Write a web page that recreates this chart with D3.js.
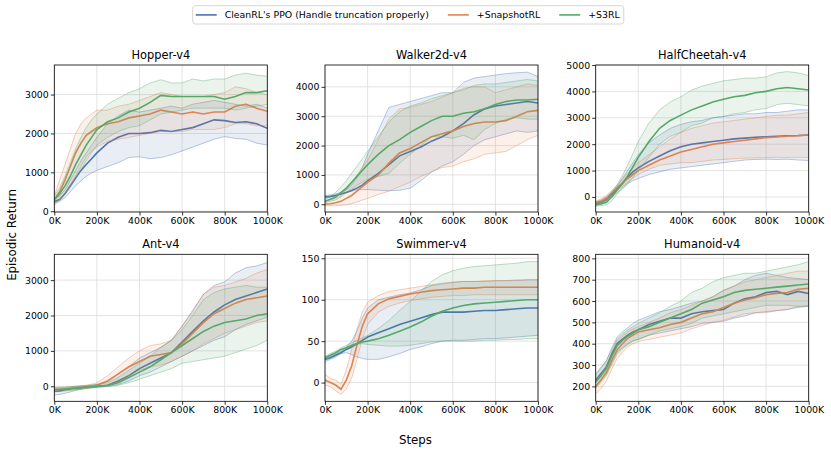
<!DOCTYPE html>
<html>
<head>
<meta charset="utf-8">
<script src="https://cdn.jsdelivr.net/npm/d3@7"></script>
<style>
  body { margin: 0; background: #fff; }
  svg text { font-family: "DejaVu Sans", sans-serif; fill: #000; }
</style>
</head>
<body>
<svg id="fig" width="831" height="454"></svg>
<script>
// steps in thousands
const steps = [0, 25, 50, 75, 100, 125, 150, 175, 200, 250, 300, 350, 400, 450, 500, 550, 600, 650, 700, 750, 800, 850, 900, 950, 1000];

const methods = ["CleanRL's PPO (Handle truncation properly)", "+SnapshotRL", "+S3RL"];
const colors = ["#4c72b0", "#dd8452", "#55a868"];

// Hopper-v4
const hopperPpoMean = [250, 300, 450, 650, 850, 1050, 1200, 1350, 1500, 1750, 1900, 2000, 2000, 2020, 2080, 2050, 2100, 2150, 2250, 2350, 2330, 2280, 2300, 2250, 2130];
const hopperPpoHi = [300, 400, 550, 800, 1050, 1300, 1500, 1700, 1900, 2250, 2450, 2600, 2550, 2600, 2650, 2700, 2650, 2750, 2800, 2850, 2800, 2750, 2700, 2750, 2650];
const hopperPpoLo = [200, 250, 350, 500, 650, 780, 900, 980, 1050, 1150, 1250, 1380, 1400, 1350, 1380, 1450, 1550, 1650, 1750, 1850, 1920, 1870, 1850, 1750, 1700];
const hopperSnapMean = [300, 500, 800, 1150, 1500, 1750, 1950, 2050, 2150, 2250, 2300, 2400, 2450, 2500, 2600, 2550, 2500, 2550, 2500, 2550, 2550, 2700, 2750, 2650, 2570];
const hopperSnapHi = [400, 800, 1200, 1600, 2000, 2250, 2400, 2500, 2600, 2600, 2700, 2750, 2850, 2950, 3050, 3000, 2950, 2950, 2950, 3000, 3050, 3200, 3150, 3050, 3000];
const hopperSnapLo = [150, 300, 450, 650, 900, 1150, 1400, 1550, 1650, 1800, 1850, 1900, 1950, 2000, 2050, 2050, 2050, 2100, 2100, 2100, 2150, 2250, 2250, 2200, 2200];
const hopperS3Mean = [300, 450, 650, 900, 1200, 1450, 1700, 1900, 2100, 2300, 2400, 2550, 2650, 2800, 2980, 2950, 2950, 2950, 2950, 2950, 2880, 2950, 3050, 3050, 3100];
const hopperS3Hi = [400, 600, 900, 1250, 1600, 1900, 2150, 2350, 2500, 2750, 2900, 3050, 3150, 3300, 3380, 3300, 3300, 3400, 3350, 3400, 3400, 3500, 3550, 3500, 3470];
const hopperS3Lo = [200, 300, 450, 650, 850, 1050, 1300, 1500, 1700, 1900, 2050, 2150, 2200, 2350, 2500, 2550, 2600, 2650, 2650, 2650, 2650, 2600, 2650, 2700, 2750];

// Walker2d-v4
const walkerPpoMean = [250, 270, 300, 350, 400, 470, 550, 650, 800, 1050, 1350, 1650, 1800, 1950, 2150, 2300, 2500, 2750, 3050, 3250, 3350, 3400, 3450, 3500, 3450];
const walkerPpoHi = [300, 320, 350, 400, 500, 650, 900, 1250, 1700, 2500, 3300, 3400, 3500, 3600, 3700, 3800, 3800, 4150, 4300, 4350, 4400, 4450, 4480, 4500, 4350];
const walkerPpoLo = [200, 250, 300, 350, 400, 450, 500, 500, 500, 480, 460, 480, 550, 800, 1100, 1300, 1450, 1700, 2000, 2200, 2300, 2400, 2500, 2450, 2500];
const walkerSnapMean = [0, 20, 50, 100, 200, 300, 450, 600, 750, 1000, 1400, 1750, 1900, 2100, 2300, 2400, 2500, 2650, 2750, 2800, 2800, 2850, 3000, 3150, 3200];
const walkerSnapHi = [100, 150, 200, 300, 500, 700, 1000, 1250, 1500, 2200, 2900, 3250, 3300, 3400, 3500, 3650, 3800, 3950, 4000, 4000, 3800, 3900, 4000, 4100, 4050];
const walkerSnapLo = [-50, -50, -50, -40, -20, 20, 80, 140, 200, 330, 450, 600, 750, 950, 1100, 1250, 1300, 1450, 1550, 1700, 1750, 1800, 2000, 2200, 2350];
const walkerS3Mean = [100, 170, 250, 400, 550, 750, 950, 1150, 1350, 1700, 2000, 2200, 2450, 2650, 2850, 3000, 3000, 3100, 3150, 3250, 3400, 3500, 3550, 3550, 3580];
const walkerS3Hi = [150, 250, 400, 600, 800, 1050, 1300, 1550, 1800, 2300, 2800, 3150, 3350, 3450, 3600, 3700, 3800, 3900, 4050, 4100, 4100, 4150, 4200, 4250, 4200];
const walkerS3Lo = [50, 100, 150, 250, 400, 520, 650, 750, 850, 950, 1050, 1400, 1700, 2000, 2300, 2300, 2250, 2350, 2200, 2550, 2750, 2900, 2950, 2900, 2900];

// HalfCheetah-v4
const cheetahPpoMean = [-250, -200, -100, 100, 300, 520, 750, 950, 1100, 1350, 1550, 1750, 1900, 2000, 2050, 2100, 2150, 2200, 2230, 2260, 2280, 2300, 2320, 2330, 2350];
const cheetahPpoHi = [-200, -120, 0, 200, 400, 700, 1000, 1300, 1600, 2050, 2350, 2600, 2750, 2850, 2900, 3000, 3050, 3100, 3150, 3150, 3200, 3200, 3250, 3300, 3300];
const cheetahPpoLo = [-300, -250, -150, 0, 150, 330, 500, 620, 700, 850, 950, 1050, 1100, 1150, 1200, 1250, 1300, 1350, 1400, 1420, 1430, 1420, 1430, 1400, 1380];
const cheetahSnapMean = [-200, -150, -50, 150, 350, 520, 700, 850, 1000, 1200, 1400, 1550, 1700, 1800, 1900, 2000, 2050, 2100, 2150, 2200, 2250, 2270, 2300, 2320, 2350];
const cheetahSnapHi = [-150, -80, 50, 250, 450, 680, 900, 1100, 1300, 1600, 1900, 2200, 2450, 2600, 2700, 2800, 2850, 2900, 2950, 3000, 3050, 3100, 3100, 3150, 3200];
const cheetahSnapLo = [-250, -200, -100, 70, 250, 400, 550, 700, 850, 1050, 1200, 1250, 1300, 1300, 1350, 1400, 1420, 1450, 1470, 1480, 1490, 1500, 1500, 1500, 1500];
const cheetahS3Mean = [-300, -270, -200, 0, 250, 500, 800, 1150, 1500, 2100, 2600, 2900, 3100, 3300, 3450, 3600, 3700, 3800, 3850, 3950, 4000, 4100, 4150, 4100, 4050];
const cheetahS3Hi = [-250, -200, -100, 150, 450, 800, 1200, 1650, 2100, 2800, 3300, 3600, 3800, 4050, 4200, 4300, 4400, 4450, 4500, 4500, 4550, 4700, 4750, 4700, 4600];
const cheetahS3Lo = [-350, -330, -300, -150, 100, 300, 500, 750, 1000, 1500, 2000, 2300, 2450, 2700, 2800, 3000, 3050, 3150, 3200, 3300, 3350, 3500, 3550, 3500, 3450];

// Ant-v4
const antPpoMean = [-150, -130, -100, -70, -50, -35, -20, -10, 0, 30, 150, 300, 500, 650, 800, 950, 1250, 1550, 1850, 2100, 2300, 2450, 2550, 2650, 2750];
const antPpoHi = [-50, -50, -50, -30, -20, 0, 20, 30, 50, 150, 350, 550, 800, 950, 1100, 1300, 1700, 2150, 2600, 2850, 2950, 3200, 3350, 3400, 3500];
const antPpoLo = [-250, -230, -200, -160, -120, -90, -60, -45, -30, 0, 50, 150, 300, 400, 550, 700, 850, 1000, 1150, 1300, 1400, 1600, 1750, 1850, 1950];
const antSnapMean = [-100, -90, -80, -65, -50, -35, -20, 0, 30, 150, 350, 550, 700, 850, 900, 950, 1200, 1500, 1800, 2050, 2200, 2350, 2450, 2500, 2550];
const antSnapHi = [-50, -40, -30, -15, 0, 15, 30, 60, 100, 300, 550, 800, 1000, 1150, 1200, 1300, 1700, 2100, 2600, 2800, 2850, 2950, 3050, 3200, 3300];
const antSnapLo = [-150, -140, -130, -115, -100, -80, -60, -40, -20, 30, 150, 300, 450, 550, 600, 700, 850, 1000, 1200, 1350, 1500, 1600, 1700, 1800, 1850];
const antS3Mean = [-100, -90, -80, -70, -60, -45, -30, -15, 0, 20, 100, 250, 400, 550, 750, 950, 1150, 1350, 1550, 1700, 1800, 1850, 1900, 2000, 2050];
const antS3Hi = [-30, -25, -20, -10, 0, 10, 20, 35, 50, 100, 250, 450, 650, 850, 1100, 1300, 1600, 2000, 2450, 2650, 2750, 2800, 2850, 2800, 2800];
const antS3Lo = [-150, -140, -130, -115, -100, -80, -60, -45, -30, -10, 30, 100, 200, 300, 400, 500, 650, 700, 750, 800, 850, 950, 1050, 1150, 1300];

// Swimmer-v4
const swimPpoMean = [28, 30, 33, 36, 40, 43, 47, 51, 55, 60, 65, 70, 74, 78, 82, 85, 85, 85, 86, 87, 87, 88, 89, 90, 90];
const swimPpoHi = [30, 32, 35, 38, 43, 50, 62, 78, 90, 100, 103, 106, 108, 112, 117, 119, 121, 122, 122, 122, 123, 123, 123, 124, 124];
const swimPpoLo = [25, 28, 31, 35, 36, 34, 31, 29, 28, 28, 31, 35, 40, 43, 47, 50, 51, 51, 52, 53, 53, 54, 55, 56, 57];
const swimSnapMean = [3, 0, -3, -8, 3, 20, 45, 68, 83, 95, 101, 104, 107, 109, 111, 112, 113, 114, 114, 115, 115, 115, 115, 115, 115];
const swimSnapHi = [10, 5, 3, -2, 15, 40, 65, 85, 97, 105, 110, 112, 114, 116, 118, 120, 121, 122, 122, 123, 123, 123, 124, 124, 124];
const swimSnapLo = [-3, -5, -10, -14, -8, 5, 28, 52, 70, 85, 92, 96, 99, 101, 103, 104, 105, 105, 106, 106, 106, 106, 106, 106, 106];
const swimS3Mean = [30, 33, 36, 40, 42, 45, 47, 49, 50, 53, 57, 62, 67, 73, 80, 86, 90, 93, 95, 96, 97, 98, 99, 100, 100];
const swimS3Hi = [32, 35, 38, 42, 45, 48, 51, 54, 57, 65, 75, 87, 98, 110, 122, 130, 135, 138, 140, 141, 142, 143, 144, 146, 146];
const swimS3Lo = [28, 31, 34, 38, 41, 44, 46, 47, 46, 45, 44, 44, 45, 47, 49, 50, 50, 50, 50, 51, 51, 52, 52, 53, 53];

// Humanoid-v4
const humPpoMean = [230, 260, 290, 350, 400, 420, 440, 455, 465, 490, 505, 520, 520, 540, 550, 555, 560, 590, 610, 620, 640, 645, 630, 645, 635];
const humPpoHi = [260, 290, 320, 380, 430, 455, 475, 495, 510, 530, 550, 560, 575, 590, 600, 620, 650, 670, 700, 720, 730, 720, 710, 705, 700];
const humPpoLo = [200, 230, 260, 310, 360, 380, 400, 415, 420, 440, 450, 460, 470, 480, 495, 500, 505, 520, 530, 545, 550, 555, 560, 570, 575];
const humSnapMean = [200, 230, 265, 320, 370, 400, 425, 440, 455, 465, 475, 490, 500, 520, 540, 550, 570, 590, 605, 615, 630, 635, 640, 655, 660];
const humSnapHi = [230, 260, 300, 360, 410, 435, 455, 470, 480, 500, 520, 545, 560, 580, 600, 620, 650, 670, 690, 700, 710, 720, 730, 740, 740];
const humSnapLo = [165, 190, 225, 280, 330, 360, 385, 400, 410, 420, 430, 440, 450, 470, 485, 500, 510, 525, 540, 545, 545, 555, 560, 575, 580];
const humS3Mean = [220, 250, 285, 340, 390, 415, 435, 450, 465, 480, 500, 520, 540, 560, 590, 605, 620, 640, 650, 655, 660, 665, 670, 675, 680];
const humS3Hi = [250, 285, 320, 370, 420, 445, 465, 480, 495, 520, 545, 575, 600, 640, 660, 690, 710, 720, 730, 730, 740, 750, 760, 770, 785];
const humS3Lo = [190, 220, 250, 300, 350, 375, 395, 410, 420, 440, 460, 470, 480, 495, 520, 530, 540, 550, 560, 570, 580, 580, 580, 575, 575];

const envs = [
  { title: "Hopper-v4", yDomain: [-20, 3760], yTicks: [0, 1000, 2000, 3000],
    runs: [[hopperPpoMean, hopperPpoLo, hopperPpoHi], [hopperSnapMean, hopperSnapLo, hopperSnapHi], [hopperS3Mean, hopperS3Lo, hopperS3Hi]] },
  { title: "Walker2d-v4", yDomain: [-263, 4744], yTicks: [0, 1000, 2000, 3000, 4000],
    runs: [[walkerPpoMean, walkerPpoLo, walkerPpoHi], [walkerSnapMean, walkerSnapLo, walkerSnapHi], [walkerS3Mean, walkerS3Lo, walkerS3Hi]] },
  { title: "HalfCheetah-v4", yDomain: [-570, 5000], yTicks: [0, 1000, 2000, 3000, 4000, 5000],
    runs: [[cheetahPpoMean, cheetahPpoLo, cheetahPpoHi], [cheetahSnapMean, cheetahSnapLo, cheetahSnapHi], [cheetahS3Mean, cheetahS3Lo, cheetahS3Hi]] },
  { title: "Ant-v4", yDomain: [-425, 3730], yTicks: [0, 1000, 2000, 3000],
    runs: [[antPpoMean, antPpoLo, antPpoHi], [antSnapMean, antSnapLo, antSnapHi], [antS3Mean, antS3Lo, antS3Hi]] },
  { title: "Swimmer-v4", yDomain: [-22.6, 154.8], yTicks: [0, 50, 100, 150],
    runs: [[swimPpoMean, swimPpoLo, swimPpoHi], [swimSnapMean, swimSnapLo, swimSnapHi], [swimS3Mean, swimS3Lo, swimS3Hi]] },
  { title: "Humanoid-v4", yDomain: [130, 819], yTicks: [200, 300, 400, 500, 600, 700, 800],
    runs: [[humPpoMean, humPpoLo, humPpoHi], [humSnapMean, humSnapLo, humSnapHi], [humS3Mean, humS3Lo, humS3Hi]] }
];

const xTicks = [0, 200, 400, 600, 800, 1000];

let svg = d3.select("#fig")
let colLeft = [54.3, 325, 595.7]
let rowTop = [65, 254.3]
let pw = 213, ph = 147

envs.forEach((env, i) => {
  let col = i % 3, row = Math.floor(i / 3)
  let g = svg.append("g").attr("transform", `translate(${colLeft[col]},${rowTop[row]})`)

  let x = d3.scaleLinear().domain([0, 1000]).range([0, pw])
  let y = d3.scaleLinear().domain(env.yDomain).range([ph, 0])

  // grid
  g.append("g").selectAll("line").data(xTicks).join("line")
    .attr("x1", d => x(d)).attr("x2", d => x(d)).attr("y1", 0).attr("y2", ph)
    .attr("stroke", "#dcdcdc").attr("stroke-width", 0.8)
  g.append("g").selectAll("line").data(env.yTicks).join("line")
    .attr("x1", 0).attr("x2", pw).attr("y1", d => y(d)).attr("y2", d => y(d))
    .attr("stroke", "#dcdcdc").attr("stroke-width", 0.8)

  g.append("clipPath").attr("id", "clip" + i)
    .append("rect").attr("width", pw).attr("height", ph)
  let plot = g.append("g").attr("clip-path", `url(#clip${i})`)

  let area = d3.area().x((d, k) => x(steps[k])).y0(d => y(d[0])).y1(d => y(d[1]))
  let line = d3.line().x((d, k) => x(steps[k])).y(d => y(d))

  env.runs.forEach((run, m) => {
    let [mean, lo, hi] = run
    plot.append("path").datum(lo.map((v, k) => [v, hi[k]]))
      .attr("d", area).attr("fill", colors[m]).attr("fill-opacity", 0.12)
    ;[lo, hi].forEach(b => {
      plot.append("path").datum(b).attr("d", line)
        .attr("fill", "none").attr("stroke", colors[m]).attr("stroke-width", 0.7).attr("stroke-opacity", 0.55)
    })
    plot.append("path").datum(mean).attr("d", line)
      .attr("fill", "none").attr("stroke", colors[m]).attr("stroke-width", 1.6)
  })

  // axes
  let xAxis = d3.axisBottom(x).tickValues(xTicks).tickFormat(d => d + "K").tickSize(3.5).tickPadding(2)
  let yAxis = d3.axisLeft(y).tickValues(env.yTicks).tickFormat(d3.format("d")).tickSize(3.5).tickPadding(2)
  let xg = g.append("g").attr("transform", `translate(0,${ph})`).call(xAxis)
  let yg = g.append("g").call(yAxis)
  ;[xg, yg].forEach(a => {
    a.select(".domain").remove()
    a.selectAll("line").attr("stroke", "#000").attr("stroke-width", 0.8)
    a.selectAll("text").style("font-family", "DejaVu Sans").style("font-size", "9.4px").attr("fill", "#000")
  })

  g.append("rect").attr("width", pw).attr("height", ph)
    .attr("fill", "none").attr("stroke", "#000").attr("stroke-width", 0.8)

  g.append("text").attr("x", pw / 2).attr("y", -6).attr("text-anchor", "middle")
    .style("font-size", "11.4px").text(env.title)
})

// shared labels
svg.append("text").attr("x", 415.5).attr("y", 444).attr("text-anchor", "middle")
  .style("font-size", "11.8px").text("Steps")
svg.append("text").attr("transform", "translate(16,235) rotate(-90)").attr("text-anchor", "middle")
  .style("font-size", "11.8px").text("Episodic Return")

// legend
let leg = svg.append("g").attr("transform", "translate(192.7,5.7)")
let box = leg.append("rect").attr("height", 18.3).attr("rx", 2.5)
  .attr("fill", "#fff").attr("stroke", "#cccccc").attr("stroke-width", 0.8)
let cx = 3
methods.forEach((name, m) => {
  leg.append("line").attr("x1", cx).attr("x2", cx + 21).attr("y1", 9.2).attr("y2", 9.2)
    .attr("stroke", colors[m]).attr("stroke-width", 1.6)
  let t = leg.append("text").attr("x", cx + 29).attr("y", 12.6)
    .style("font-size", "9.4px").text(name)
  cx += 29 + t.node().getComputedTextLength() + 19
})
box.attr("width", cx - 19 + 4)
</script>
</body>
</html>
